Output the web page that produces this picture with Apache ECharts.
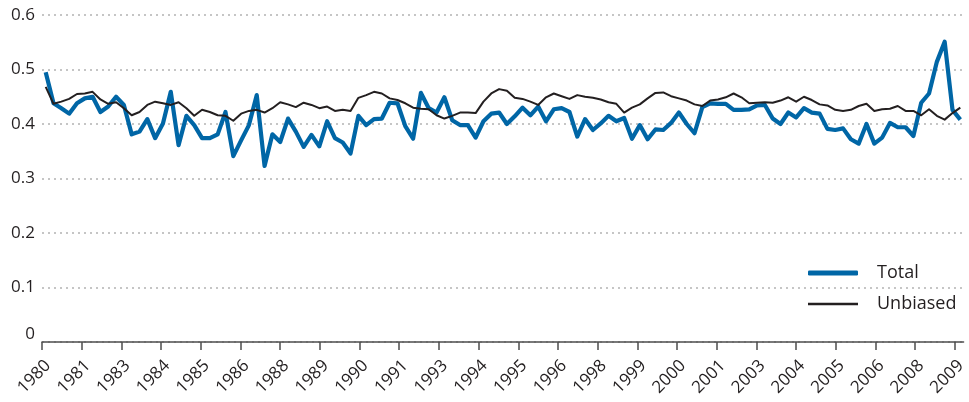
<!DOCTYPE html>
<html><head><meta charset="utf-8">
<script src="https://cdn.jsdelivr.net/npm/echarts@6/dist/echarts.min.js"></script>
<style>html,body{margin:0;padding:0;background:#fff}#c{width:969px;height:402px}</style>
</head><body><div id="c"></div>
<script>
// Tick labels along the time axis (one label every 5 quarters)
const tickLabels = ['1980','1981','1983','1984','1985','1986','1988','1989','1990','1991','1993','1994',
  '1995','1996','1998','1999','2000','2001','2003','2004','2005','2006','2008','2009'];

// Quarterly series
const total = [
  0.495,0.438,0.429,0.419,0.438,0.447,0.450,0.422,0.432,0.450,
  0.435,0.381,0.386,0.409,0.374,0.401,0.459,0.361,0.415,0.398,
  0.374,0.374,0.381,0.422,0.341,0.370,0.398,0.453,0.323,0.381,
  0.367,0.410,0.386,0.358,0.380,0.359,0.405,0.374,0.366,0.346,
  0.415,0.398,0.409,0.410,0.439,0.438,0.396,0.373,0.457,0.429,
  0.421,0.449,0.407,0.398,0.398,0.375,0.405,0.419,0.421,0.400,
  0.414,0.430,0.416,0.432,0.405,0.427,0.429,0.422,0.377,0.409,
  0.389,0.401,0.415,0.405,0.411,0.373,0.398,0.372,0.390,0.389,
  0.402,0.421,0.400,0.383,0.431,0.438,0.437,0.437,0.426,0.426,
  0.427,0.434,0.435,0.410,0.400,0.421,0.412,0.429,0.421,0.419,
  0.391,0.389,0.392,0.372,0.364,0.400,0.364,0.375,0.402,0.394,
  0.394,0.378,0.439,0.456,0.514,0.551,0.426,0.408
];
const unbiased = [
  0.468,0.437,0.441,0.446,0.455,0.456,0.459,0.445,0.437,0.440,
  0.429,0.416,0.422,0.435,0.441,0.438,0.435,0.440,0.429,0.415,
  0.426,0.422,0.416,0.415,0.406,0.419,0.424,0.426,0.421,0.429,
  0.440,0.436,0.431,0.439,0.435,0.429,0.432,0.424,0.426,0.424,
  0.448,0.453,0.459,0.456,0.447,0.444,0.438,0.430,0.428,0.427,
  0.416,0.410,0.415,0.421,0.421,0.420,0.441,0.456,0.464,0.461,
  0.448,0.446,0.441,0.435,0.449,0.456,0.451,0.446,0.453,0.450,
  0.448,0.445,0.440,0.437,0.421,0.430,0.436,0.447,0.457,0.458,
  0.451,0.447,0.443,0.436,0.433,0.443,0.445,0.449,0.456,0.449,
  0.438,0.439,0.440,0.439,0.443,0.449,0.441,0.450,0.444,0.436,
  0.434,0.426,0.424,0.426,0.433,0.437,0.424,0.427,0.428,0.433,
  0.424,0.424,0.416,0.427,0.415,0.408,0.420,0.430
];
const seriesNames = ['Total','Unbiased'];

const font = '"Open Sans","Noto Sans","DejaVu Sans",sans-serif';
const ink = '#231f20';
const blue = '#0066a6';
const tickIdx = tickLabels.map((_, k) => k);

const chart = echarts.init(document.getElementById('c'), null, {renderer:'canvas'});
chart.setOption({
  animation:false,
  backgroundColor:'#fff',
  textStyle:{fontFamily:font},
  grid:{left:42,right:4,top:15,bottom:60,containLabel:false},
  xAxis:[
    {type:'value',min:-0.473,max:117.42,position:'bottom',
     axisLine:{show:true,onZero:false,lineStyle:{color:'#4d4d4d',width:1.5}},
     axisTick:{show:false},axisLabel:{show:false},splitLine:{show:false}},
    {type:'value',min:0,max:23.22,position:'bottom',
     axisLine:{show:false},
     axisTick:{show:true,length:8,customValues:tickIdx,lineStyle:{color:'#4d4d4d',width:1.5}},
     axisLabel:{customValues:tickIdx,rotate:45,margin:15,fontSize:17,color:ink,fontFamily:font,
       verticalAlign:'top',
       formatter:v=>{const k=Math.round(v);return Math.abs(v-k)<1e-6&&tickLabels[k]?tickLabels[k]:'';}},
     splitLine:{show:false}}
  ],
  yAxis:{type:'value',min:0,max:0.6,interval:0.1,
    axisLine:{show:false},axisTick:{show:false},
    axisLabel:{fontSize:17,color:ink,margin:7,fontFamily:font,
      formatter:v=>v===0?'{z|0}':String(+v.toFixed(1)),
      rich:{z:{fontSize:17,color:ink,fontFamily:font,padding:[0,0,16,0]}}},
    splitLine:{show:true,lineStyle:{color:'#b3b3b3',type:[2,4],width:1.5}}},
  legend:[
    {data:[seriesNames[0]],left:808,top:264,orient:'vertical',icon:'roundRect',itemWidth:50,itemHeight:5,
     padding:0,selectedMode:false,itemStyle:{borderWidth:0},
     textStyle:{fontSize:18,color:ink,fontFamily:font,padding:[0,0,0,14]}},
    {data:[seriesNames[1]],left:808,top:295,orient:'vertical',icon:'rect',itemWidth:50,itemHeight:2.6,
     padding:0,selectedMode:false,itemStyle:{borderWidth:0},
     textStyle:{fontSize:18,color:ink,fontFamily:font,padding:[0,0,0,14]}}
  ],
  series:[
    {name:seriesNames[0],type:'line',xAxisIndex:0,symbol:'none',data:total.map((v,i)=>[i,v]),
     lineStyle:{color:blue,width:4.2,join:'round'},itemStyle:{color:blue},z:2},
    {name:seriesNames[1],type:'line',xAxisIndex:0,symbol:'none',data:unbiased.map((v,i)=>[i,v]),
     lineStyle:{color:ink,width:2,join:'round'},itemStyle:{color:ink},z:3}
  ]
});
</script></body></html>
